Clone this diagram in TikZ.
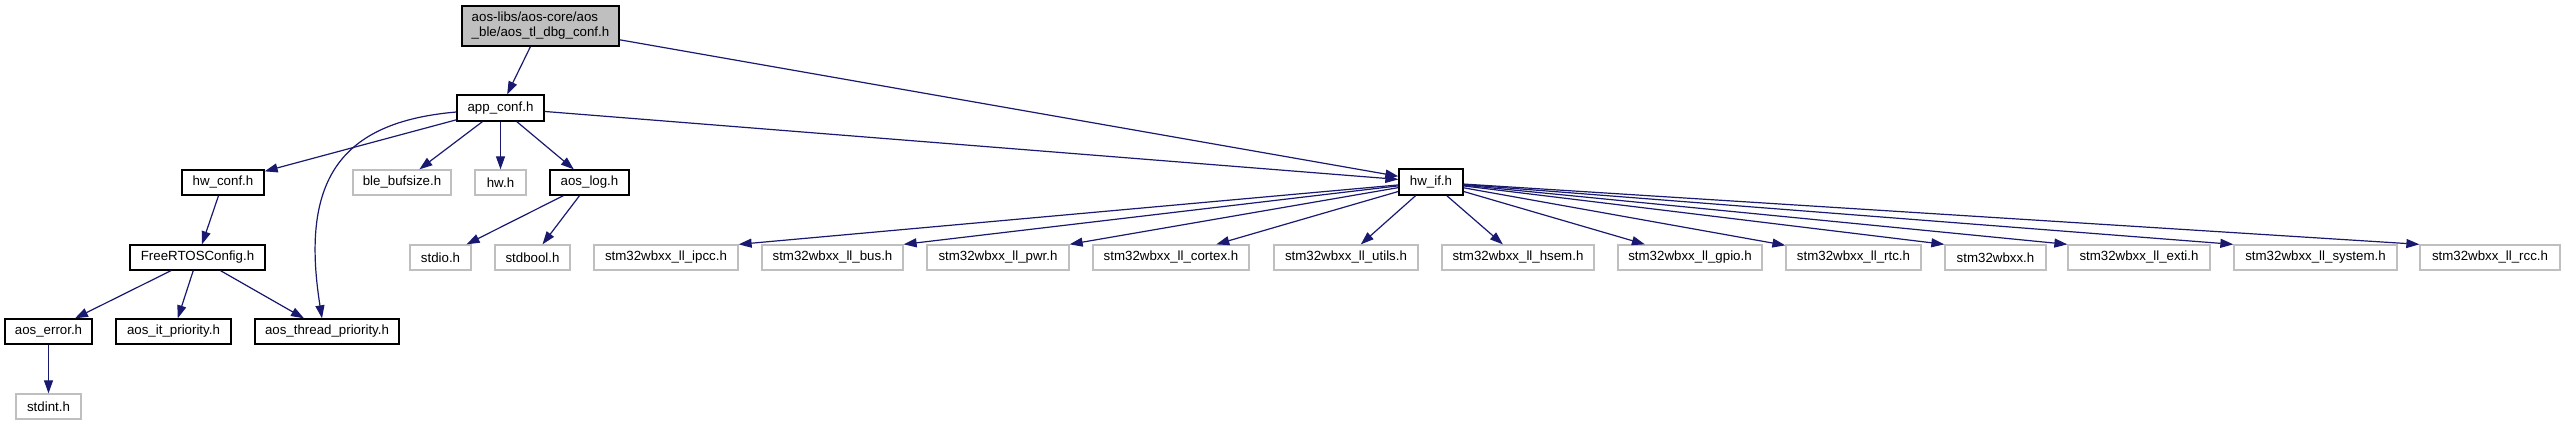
\documentclass[tikz,border=0pt]{standalone}
\usepackage{fontspec}
\setmainfont{Liberation Sans}
\usetikzlibrary{arrows.meta}
\definecolor{edgeblue}{HTML}{191970}
\definecolor{greybox}{HTML}{BFBFBF}
\begin{document}
\begin{tikzpicture}[x=1pt,y=-1pt,
  every node/.style={font=\fontsize{13.3}{15}\selectfont, inner sep=0pt, minimum height=25pt, anchor=center},
  doc/.style={draw=black, line width=1.3pt, fill=white},
  undoc/.style={draw=greybox, line width=1.3pt, fill=white},
  edge/.style={draw=edgeblue, line width=1.2pt, -{Triangle[length=13pt,width=9pt]}}]
\useasboundingbox (0,0) rectangle (2565,425);
% row 0
\node[doc, fill=greybox, minimum width=157pt, minimum height=40pt, align=left] (root) at (540.5,26) {aos-libs/aos-core/aos\\\_ble/aos\_tl\_dbg\_conf.h};
% row 1
\node[doc, minimum width=87pt, minimum height=26pt] (app) at (500.5,108) {app\_conf.h};
% row 2
\node[doc, minimum width=82pt] (hwconf) at (223,182.5) {hw\_conf.h};
\node[undoc, minimum width=98pt] (ble) at (402,182.5) {ble\_bufsize.h};
\node[undoc, minimum width=51pt] (hw) at (500.5,182.5) {hw.h};
\node[doc, minimum width=79pt] (aoslog) at (589.5,182.5) {aos\_log.h};
\node[doc, minimum width=64pt, minimum height=26pt] (hwif) at (1431,182) {hw\_if.h};
% row 3
\node[doc, minimum width=135pt] (freertos) at (197.5,257.5) {FreeRTOSConfig.h};
\node[undoc, minimum width=61pt] (stdio) at (440.5,257.5) {stdio.h};
\node[undoc, minimum width=75pt] (stdbool) at (532.5,257.5) {stdbool.h};
\node[undoc, minimum width=144pt] (ipcc) at (666,257.5) {stm32wbxx\_ll\_ipcc.h};
\node[undoc, minimum width=141pt] (bus) at (832.5,257.5) {stm32wbxx\_ll\_bus.h};
\node[undoc, minimum width=142pt] (pwr) at (998,257.5) {stm32wbxx\_ll\_pwr.h};
\node[undoc, minimum width=156pt] (cortex) at (1171,257.5) {stm32wbxx\_ll\_cortex.h};
\node[undoc, minimum width=144pt] (utils) at (1346,257.5) {stm32wbxx\_ll\_utils.h};
\node[undoc, minimum width=152pt] (hsem) at (1518,257.5) {stm32wbxx\_ll\_hsem.h};
\node[undoc, minimum width=144pt] (gpio) at (1690,257.5) {stm32wbxx\_ll\_gpio.h};
\node[undoc, minimum width=135pt] (rtc) at (1853.5,257.5) {stm32wbxx\_ll\_rtc.h};
\node[undoc, minimum width=101pt] (wbxx) at (1995.5,257.5) {stm32wbxx.h};
\node[undoc, minimum width=142pt] (exti) at (2139,257.5) {stm32wbxx\_ll\_exti.h};
\node[undoc, minimum width=163pt] (system) at (2315.5,257.5) {stm32wbxx\_ll\_system.h};
\node[undoc, minimum width=140pt] (rcc) at (2490,257.5) {stm32wbxx\_ll\_rcc.h};
% row 4
\node[doc, minimum width=87pt] (aoserror) at (48.5,331.5) {aos\_error.h};
\node[doc, minimum width=115pt] (itprio) at (173.5,331.5) {aos\_it\_priority.h};
\node[doc, minimum width=144pt] (threadprio) at (327,331.5) {aos\_thread\_priority.h};
% row 5
\node[undoc, minimum width=65pt] (stdint) at (48.5,406.5) {stdint.h};
% edges
\draw[edge] (root) -- (app);
\draw[edge] (root) -- (hwif);
\draw[edge] (app) -- (hwconf);
\draw[edge] ([yshift=-4pt]app.west) .. controls (340,122) and (300,180) .. ([xshift=-5pt]threadprio.north);
\draw[edge] (app) -- (ble);
\draw[edge] (app) -- (hw);
\draw[edge] (app) -- (aoslog);
\draw[edge] (app) -- (hwif);
\draw[edge] (hwconf) -- (freertos);
\draw[edge] (freertos) -- (aoserror);
\draw[edge] (freertos) -- (itprio);
\draw[edge] (freertos) -- (threadprio);
\draw[edge] (aoserror) -- (stdint);
\draw[edge] (aoslog) -- (stdio);
\draw[edge] (aoslog) -- (stdbool);
\draw[edge] (hwif) -- (ipcc.north east);
\draw[edge] (hwif) -- (bus.north east);
\draw[edge] (hwif) -- (pwr.north east);
\draw[edge] (hwif) -- (cortex);
\draw[edge] (hwif) -- (utils);
\draw[edge] (hwif) -- (hsem);
\draw[edge] (hwif) -- (gpio);
\draw[edge] (hwif) -- (rtc);
\draw[edge] (hwif) -- (wbxx.north west);
\draw[edge] (hwif) -- (exti.north west);
\draw[edge] (hwif) -- (system.north west);
\draw[edge] (hwif) -- (rcc.north west);
\end{tikzpicture}
\end{document}
